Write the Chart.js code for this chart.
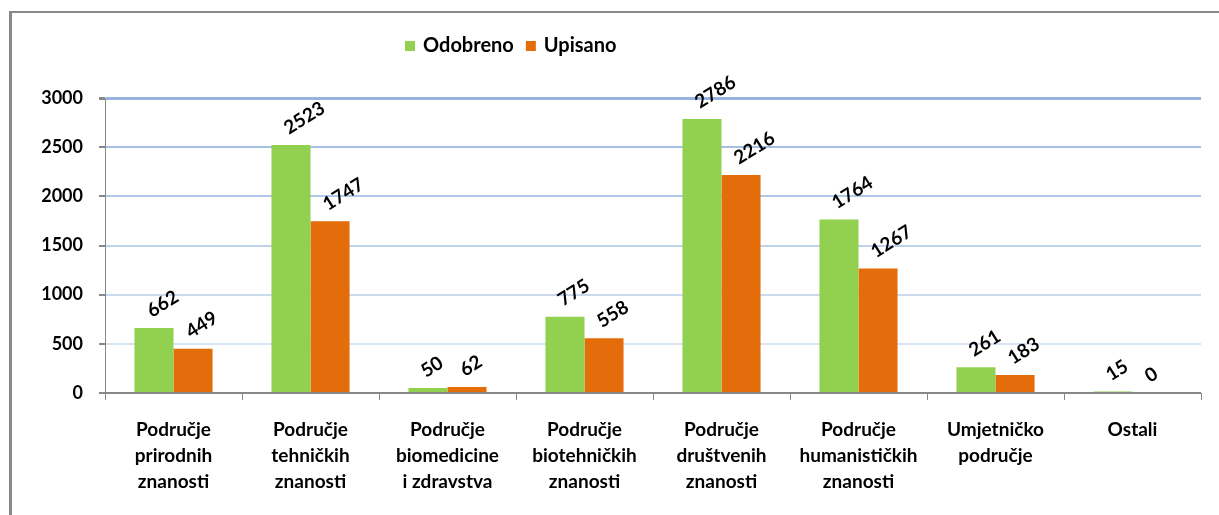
<!DOCTYPE html>
<html>
<head>
<meta charset="utf-8">
<script src="https://cdn.jsdelivr.net/npm/chart.js@4.4.1/dist/chart.umd.min.js"></script>
<style>
  body { margin: 0; background: #fff; }
  #wrap { position: relative; width: 1219px; height: 515px; }
  #frame { position: absolute; left: 9px; top: 11px; right: 0; bottom: 0;
           border-top: 2px solid #888; border-left: 3px solid #888; pointer-events: none; }
  canvas { position: absolute; left: 0; top: 0; }
</style>
</head>
<body>
<div id="wrap">
  <canvas id="myChart" width="1219" height="515"></canvas>
  <div id="frame"></div>
</div>
<script>
// podaci s grafikona
const categories = [
  ['Područje', 'prirodnih', 'znanosti'],
  ['Područje', 'tehničkih', 'znanosti'],
  ['Područje', 'biomedicine', 'i zdravstva'],
  ['Područje', 'biotehničkih', 'znanosti'],
  ['Područje', 'društvenih', 'znanosti'],
  ['Područje', 'humanističkih', 'znanosti'],
  ['Umjetničko', 'područje'],
  ['Ostali']
];
const odobreno = [662, 2523, 50, 775, 2786, 1764, 261, 15];
const upisano = [449, 1747, 62, 558, 2216, 1267, 183, 0];
const yTicks = [0, 500, 1000, 1500, 2000, 2500, 3000];

const FONT = 'Lato, "Open Sans", sans-serif';
const gridColors = ['#888888', '#d9e4f3', '#cbdaef', '#bfd1eb', '#b2c8e8', '#a6bfe4', '#97b3df'];

// vrijednosti iznad stupaca, zakošene
const barLabels = {
  id: 'barLabels',
  afterDatasetsDraw(chart) {
    const ctx = chart.ctx;
    ctx.save();
    ctx.font = 'bold 19px ' + FONT;
    ctx.fillStyle = '#000';
    ctx.textAlign = 'left';
    ctx.textBaseline = 'alphabetic';
    chart.data.datasets.forEach((ds, i) => {
      chart.getDatasetMeta(i).data.forEach((bar, j) => {
        ctx.save();
        ctx.translate(bar.x - 2, bar.y - 10);
        ctx.rotate(-32 * Math.PI / 180);
        ctx.fillText(String(ds.data[j]), 0, 0);
        ctx.restore();
      });
    });
    ctx.restore();
  }
};

// legenda
const legendBox = {
  id: 'legendBox',
  afterDraw(chart) {
    const ctx = chart.ctx;
    ctx.save();
    ctx.font = 'bold 20px ' + FONT;
    ctx.textBaseline = 'middle';
    let x = 405;
    const y = 46;
    chart.data.datasets.forEach(ds => {
      ctx.fillStyle = ds.backgroundColor;
      ctx.fillRect(x, y - 5, 10, 10);
      ctx.fillStyle = '#000';
      ctx.fillText(ds.label, x + 18, y);
      x += 18 + ctx.measureText(ds.label).width + 12;
    });
    ctx.restore();
  }
};

const ctx = document.getElementById('myChart');

new Chart(ctx, {
  type: 'bar',
  data: {
    labels: categories,
    datasets: [
      { label: 'Odobreno', data: odobreno, backgroundColor: '#92d050' },
      { label: 'Upisano', data: upisano, backgroundColor: '#e46c0a' }
    ]
  },
  options: {
    responsive: false,
    animation: false,
    layout: { padding: { top: 98, right: 18, left: 0, bottom: 0 } },
    plugins: { legend: { display: false }, tooltip: { enabled: false } },
    datasets: { bar: { barPercentage: 1, categoryPercentage: 0.57 } },
    scales: {
      x: {
        grid: { display: true, drawOnChartArea: false, offset: true, tickLength: 7, tickColor: '#888' },
        border: { color: '#888', width: 1 },
        ticks: { color: '#000', font: { family: FONT, size: 19, weight: 'bold', lineHeight: 1.37 }, padding: 17, maxRotation: 0, autoSkip: false },
        afterFit(scale) { scale.height = 122; }
      },
      y: {
        min: 0,
        max: 3000,
        afterBuildTicks(scale) { scale.ticks = yTicks.map(v => ({ value: v })); },
        grid: {
          color: c => gridColors[c.index] || '#ccc',
          lineWidth: c => (c.index === yTicks.length - 1 ? 3 : 2),
          tickLength: 6,
          tickColor: '#888'
        },
        border: { color: '#888', width: 1 },
        ticks: { color: '#000', font: { family: FONT, size: 18, weight: 'bold' }, padding: 16, callback: v => String(v) },
        afterFit(scale) { scale.width = 105; }
      }
    }
  },
  plugins: [barLabels, legendBox]
});
</script>
</body>
</html>
